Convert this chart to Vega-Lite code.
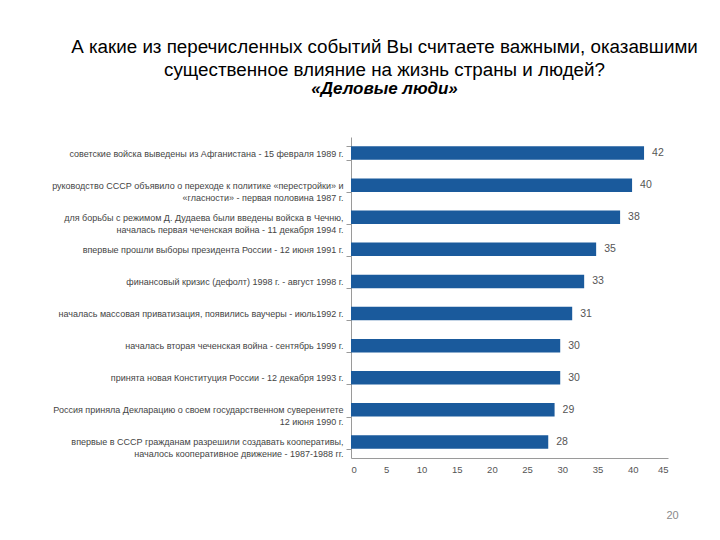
{
  "$schema": "https://vega.github.io/schema/vega-lite/v6.json",
  "width": 317,
  "height": 321,
  "autosize": {"type": "none"},
  "padding": {"left": 351, "top": 137, "right": 52, "bottom": 82},
  "background": "white",
  "title": {
    "text": ["А какие из перечисленных событий Вы считаете важными, оказавшими", "существенное влияние на жизнь страны и людей?"],
    "subtitle": "«Деловые люди»",
    "anchor": "middle",
    "dx": -125,
    "offset": 36,
    "font": "Liberation Sans",
    "fontSize": 18.8,
    "fontWeight": "normal",
    "lineHeight": 23,
    "color": "#000000",
    "subtitleFont": "Liberation Sans",
    "subtitleFontSize": 17,
    "subtitleFontWeight": "bold",
    "subtitleFontStyle": "italic",
    "subtitleColor": "#000000",
    "subtitlePadding": 1
  },
  "data": {
    "values": [
      {"event": "советские войска выведены из Афганистана - 15 февраля 1989 г.", "value": 41.6},
      {"event": "руководство СССР объявило о переходе  к политике «перестройки» и|«гласности» - первая половина 1987 г.", "value": 39.9},
      {"event": "для борьбы с режимом Д. Дудаева были введены войска  в Чечню,|началась первая чеченская война - 11 декабря 1994 г.", "value": 38.2},
      {"event": "впервые прошли выборы президента России - 12 июня 1991 г.", "value": 34.8},
      {"event": "финансовый кризис (дефолт) 1998 г. - август 1998 г.", "value": 33.1},
      {"event": "началась массовая приватизация, появились ваучеры - июль1992 г.", "value": 31.4},
      {"event": "началась вторая чеченская война - сентябрь 1999 г.", "value": 29.7},
      {"event": "принята новая Конституция России - 12 декабря 1993 г.", "value": 29.7},
      {"event": "Россия приняла Декларацию о своем государственном суверенитете|12 июня 1990 г.", "value": 28.9},
      {"event": "впервые в СССР гражданам разрешили создавать кооперативы,|началось кооперативное движение - 1987-1988 гг.", "value": 28.0}
    ]
  },
  "encoding": {
    "y": {
      "field": "event",
      "type": "nominal",
      "sort": null,
      "scale": {"paddingInner": 0.58, "paddingOuter": 0.29},
      "axis": {
        "title": null,
        "labelExpr": "datum.value ? split(datum.value, '|') : ''",
        "labelFont": "Liberation Sans",
        "labelFontSize": 9,
        "labelColor": "#444444",
        "labelLineHeight": 12,
        "labelPadding": 3,
        "labelLimit": 330,
        "tickBand": "extent",
        "tickSize": 5,
        "tickColor": "#9a9a9a",
        "domainColor": "#9a9a9a"
      }
    },
    "x": {
      "field": "value",
      "type": "quantitative",
      "scale": {"domain": [0, 45], "nice": false},
      "axis": {
        "values": [0, 5, 10, 15, 20, 25, 30, 35, 40, 45],
        "grid": false,
        "ticks": false,
        "labelFont": "Liberation Sans",
        "labelFontSize": 9.5,
        "labelColor": "#555555",
        "labelPadding": 6,
        "domainColor": "#9a9a9a",
        "title": "20",
        "titleFont": "Liberation Sans",
        "titleFontSize": 11,
        "titleFontWeight": "normal",
        "titleColor": "#8a8a8a",
        "titleX": 321,
        "titleY": 57,
        "titleAlign": "center",
        "titleBaseline": "middle"
      }
    }
  },
  "layer": [
    {"mark": {"type": "bar", "color": "#1a5a9c"}},
    {
      "mark": {"type": "text", "align": "left", "dx": 8, "font": "Liberation Sans", "fontSize": 10.5, "color": "#555555"},
      "encoding": {"text": {"field": "value", "type": "quantitative", "format": ".0f"}}
    }
  ],
  "config": {"view": {"stroke": null}}
}
